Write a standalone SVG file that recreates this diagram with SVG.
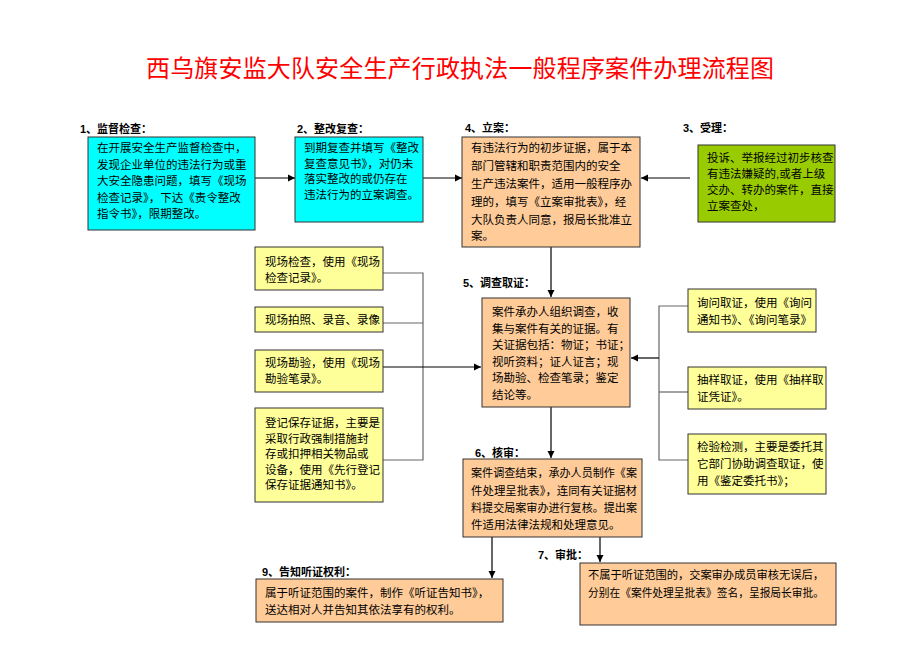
<svg xmlns="http://www.w3.org/2000/svg" width="920" height="651" viewBox="0 0 920 651">
<defs>
<marker id="ah" markerWidth="8" markerHeight="8" refX="7" refY="4" orient="auto" markerUnits="userSpaceOnUse">
<path d="M0,0.5 L7,4 L0,7.5 Z" fill="#000"/>
</marker>
<style>
text{font-family:"Liberation Sans","Noto Sans CJK SC",sans-serif;font-size:11.5px;fill:#000}
.t{font-family:"Noto Sans CJK SC","Liberation Sans",sans-serif;font-size:24px;fill:#ff0000}
.lb{font-weight:bold;font-size:11px}
.box{stroke:#333;stroke-width:1}
.cy{fill:#00ffff}.or{fill:#ffcc99}.gr{fill:#99cc00}.ye{fill:#ffff99}
.ln{fill:none;stroke:#000;stroke-width:1.2}
.gl{fill:none;stroke:#666;stroke-width:1.2}
.ar{fill:none;stroke:#000;stroke-width:1.2;marker-end:url(#ah)}
</style>
</defs>
<rect width="920" height="651" fill="#fff"/>
<text class="t" x="146" y="77" textLength="628" lengthAdjust="spacing">西乌旗安监大队安全生产行政执法一般程序案件办理流程图</text>

<g id="connectors">
<path class="ar" d="M255,178 H295"/>
<path class="ar" d="M423,178 H462"/>
<path class="ar" d="M690,178 H641"/>
<path class="ar" d="M551,247 V297"/>
<path class="gl" d="M383,273 H423 V460 H383"/>
<path class="gl" d="M383,323 H423"/>
<path class="ar" d="M383,367 H481"/>
<path class="gl" d="M688,306 H659 V460 H688"/>
<path class="gl" d="M659,392 H688"/>
<path class="ar" d="M659,358 H631"/>
<path class="ar" d="M551,407 V458"/>
<path class="ar" d="M600,537 V562"/>
<path class="ar" d="M492,537 V578"/>
</g>

<g id="n1">
<text class="lb" x="80" y="133">1、监督检查：</text>
<rect class="box cy" x="88" y="137" width="167" height="93"/>
<text x="97" y="152">在开展安全生产监督检查中，</text>
<text x="97" y="168.5">发现企业单位的违法行为或重</text>
<text x="97" y="185">大安全隐患问题，填写《现场</text>
<text x="97" y="201.5">检查记录》，下达《责令整改</text>
<text x="97" y="218">指令书》，限期整改。</text>
</g>

<g id="n2">
<text class="lb" x="297" y="133">2、整改复查：</text>
<rect class="box cy" x="295" y="137" width="128" height="85"/>
<text x="304" y="152">到期复查并填写《整改</text>
<text x="304" y="167.5">复查意见书》，对仍未</text>
<text x="304" y="183">落实整改的或仍存在</text>
<text x="304" y="198.5">违法行为的立案调查。</text>
</g>

<g id="n4">
<text class="lb" x="465" y="132">4、立案：</text>
<rect class="box or" x="462" y="137" width="178" height="110"/>
<text x="471" y="152">有违法行为的初步证据，属于本</text>
<text x="471" y="170">部门管辖和职责范围内的安全</text>
<text x="471" y="188">生产违法案件，适用一般程序办</text>
<text x="471" y="206">理的，填写《立案审批表》，经</text>
<text x="471" y="224">大队负责人同意，报局长批准立</text>
<text x="471" y="240">案。</text>
</g>

<g id="n3">
<text class="lb" x="683" y="132">3、受理：</text>
<rect class="box gr" x="698" y="145" width="137" height="77"/>
<text x="707" y="162">投诉、举报经过初步核查</text>
<text x="707" y="178">有违法嫌疑的,或者上级</text>
<text x="707" y="194">交办、转办的案件，直接</text>
<text x="707" y="210">立案查处，</text>
</g>

<g id="n5">
<text class="lb" x="463" y="287">5、调查取证：</text>
<rect class="box or" x="482" y="298" width="148" height="109"/>
<text x="492" y="316">案件承办人组织调查，收</text>
<text x="492" y="332.5">集与案件有关的证据。有</text>
<text x="492" y="349">关证据包括：物证；书证；</text>
<text x="492" y="365.5">视听资料；证人证言；现</text>
<text x="492" y="382">场勘验、检查笔录；鉴定</text>
<text x="492" y="398.5">结论等。</text>
</g>

<g id="l1">
<rect class="box ye" x="255" y="247" width="128" height="43"/>
<text x="265" y="266">现场检查，使用《现场</text>
<text x="265" y="282">检查记录》。</text>
</g>
<g id="l2">
<rect class="box ye" x="255" y="307" width="128" height="25"/>
<text x="265" y="324">现场拍照、录音、录像</text>
</g>
<g id="l3">
<rect class="box ye" x="255" y="350" width="128" height="42"/>
<text x="265" y="367">现场勘验，使用《现场</text>
<text x="265" y="383">勘验笔录》。</text>
</g>
<g id="l4">
<rect class="box ye" x="255" y="408" width="128" height="94"/>
<text x="265" y="427">登记保存证据，主要是</text>
<text x="265" y="442.5">采取行政强制措施封</text>
<text x="265" y="458">存或扣押相关物品或</text>
<text x="265" y="473.5">设备，使用《先行登记</text>
<text x="265" y="489">保存证据通知书》。</text>
</g>

<g id="r1">
<rect class="box ye" x="688" y="289" width="128" height="43"/>
<text x="697" y="307">询问取证，使用《询问</text>
<text x="697" y="324">通知书》、《询问笔录》</text>
</g>
<g id="r2">
<rect class="box ye" x="688" y="367" width="138" height="42"/>
<text x="697" y="384">抽样取证，使用《抽样取</text>
<text x="697" y="401">证凭证》。</text>
</g>
<g id="r3">
<rect class="box ye" x="688" y="434" width="138" height="60"/>
<text x="697" y="451">检验检测，主要是委托其</text>
<text x="697" y="468">它部门协助调查取证，使</text>
<text x="697" y="485">用《鉴定委托书》；</text>
</g>

<g id="n6">
<text class="lb" x="475" y="457">6、核审：</text>
<rect class="box or" x="463" y="459" width="179" height="78"/>
<text x="471" y="477" textLength="166" lengthAdjust="spacingAndGlyphs">案件调查结束，承办人员制作《案</text>
<text x="471" y="495" textLength="166" lengthAdjust="spacingAndGlyphs">件处理呈批表》，连同有关证据材</text>
<text x="471" y="512" textLength="166" lengthAdjust="spacingAndGlyphs">料提交局案审办进行复核。提出案</text>
<text x="471" y="529">件适用法律法规和处理意见。</text>
</g>

<g id="n7">
<text class="lb" x="538" y="559">7、审批：</text>
<rect class="box or" x="580" y="563" width="256" height="62"/>
<text x="588" y="579" textLength="236" lengthAdjust="spacingAndGlyphs">不属于听证范围的，交案审办成员审核无误后，</text>
<text x="588" y="597" textLength="236" lengthAdjust="spacingAndGlyphs">分别在《案件处理呈批表》签名，呈报局长审批。</text>
</g>

<g id="n9">
<text class="lb" x="262" y="576">9、告知听证权利：</text>
<rect class="box or" x="256" y="579" width="247" height="43"/>
<text x="265" y="597">属于听证范围的案件，制作《听证告知书》，</text>
<text x="265" y="614">送达相对人并告知其依法享有的权利。</text>
</g>
</svg>
